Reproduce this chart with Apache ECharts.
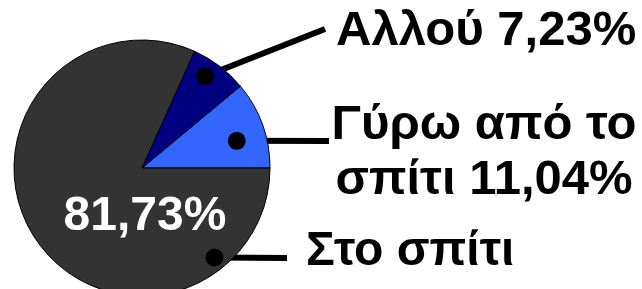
<!DOCTYPE html>
<html>
<head>
<meta charset="utf-8">
<script src="https://cdn.jsdelivr.net/npm/echarts@6/dist/echarts.min.js"></script>
<style>
  html, body { margin: 0; padding: 0; background: #fff; }
  #chart { width: 642px; height: 289px; }
</style>
</head>
<body>
<div id="chart"></div>
<script>
// data
const categories = ['Γύρω από το σπίτι', 'Αλλού', 'Στο σπίτι'];
const shares = [11.04, 7.23, 81.73];
const sliceColors = ['#3366ff', '#000080', '#333333'];

// pie geometry
const cx = 142, cy = 168, R = 128;

// leader for each slice: start (angle in deg, fraction of radius), end point, text anchor
const leaders = [
  { ang: 16, r: 0.77, end: [329, 141], text: [484, 153], align: 'center', size: 49 },
  { ang: 55.5, r: 0.87, end: [325, 29], text: [336, 31], align: 'left', size: 49 },
  { ang: 309, r: 0.9, end: [287, 258], text: [306, 252], align: 'left', size: 48 }
];

function polar(ang, r) {
  const a = ang * Math.PI / 180;
  return [cx + R * r * Math.cos(a), cy - R * r * Math.sin(a)];
}
const pct = v => v.toFixed(2).replace('.', ',') + '%';

const font = { fontFamily: 'Liberation Sans, Arial, sans-serif', fontWeight: 'bold', fontSize: 48 };

const chart = echarts.init(document.getElementById('chart'));

chart.setOption({
  animation: false,
  series: [
    {
      type: 'pie',
      center: [cx, cy],
      radius: R,
      startAngle: 0,
      clockwise: false,
      avoidLabelOverlap: false,
      silent: true,
      data: categories.map((name, i) => ({
        name: name,
        value: shares[i],
        itemStyle: { color: sliceColors[i] }
      })),
      itemStyle: { borderColor: '#000', borderWidth: 1 },
      label: {
        show: true,
        position: 'outside',
        color: '#000',
        lineHeight: 55,
        ...font,
        formatter: p => {
          if (p.dataIndex === 0) return 'Γύρω από το\nσπίτι ' + pct(p.value);
          if (p.dataIndex === 1) return p.name + ' ' + pct(p.value);
          return p.name;
        }
      },
      labelLine: {
        show: true,
        smooth: false,
        lineStyle: { color: '#000', width: 6 }
      },
      labelLayout: p => {
        const l = leaders[p.dataIndex];
        const start = polar(l.ang, l.r);
        return {
          x: l.text[0],
          y: l.text[1],
          align: l.align,
          verticalAlign: 'middle',
          fontSize: l.size,
          labelLinePoints: [start, l.end, l.end]
        };
      }
    },
    {
      // big percentage written inside the largest slice
      type: 'pie',
      center: [cx, cy],
      radius: R,
      startAngle: 0,
      clockwise: false,
      silent: true,
      data: categories.map((name, i) => ({ name: name, value: shares[i] })),
      itemStyle: { color: 'transparent', borderWidth: 0 },
      label: {
        show: true,
        position: 'inside',
        color: '#fff',
        ...font,
        formatter: p => (p.dataIndex === 2 ? pct(p.value) : '')
      },
      labelLine: { show: false },
      labelLayout: p => p.dataIndex === 2
        ? { x: 145, y: 217, align: 'center', verticalAlign: 'middle' }
        : {}
    }
  ],
  graphic: leaders.map(l => {
    const p = polar(l.ang, l.r);
    return {
      type: 'circle',
      z: 100,
      shape: { cx: p[0], cy: p[1], r: 9 },
      style: { fill: '#000' }
    };
  })
});
</script>
</body>
</html>
